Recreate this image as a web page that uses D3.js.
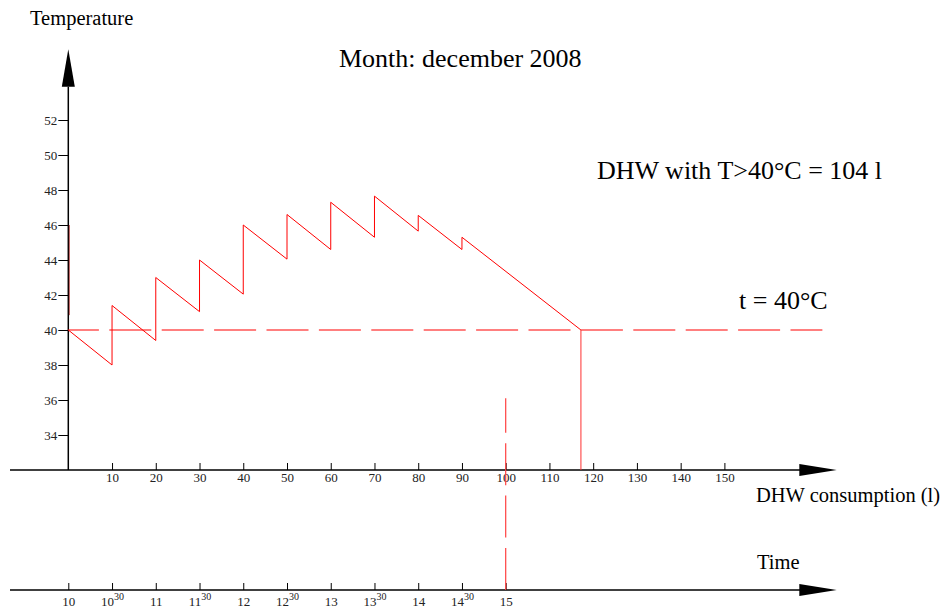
<!DOCTYPE html>
<html>
<head>
<meta charset="utf-8">
<script src="https://cdn.jsdelivr.net/npm/d3@7"></script>
<style>
  body { margin: 0; background: #fff; }
  svg { display: block; font-family: "Liberation Serif", "Times New Roman", serif; }
  .tick text { font-size: 13px; fill: #222; font-family: "Liberation Serif", "Times New Roman", serif; }
  .tick line { stroke: #000; }
</style>
</head>
<body>
<div id="container"></div>
<script>
const width = 943;
const height = 613;

// DHW consumption (l) vs temperature (°C)
const consumption = [0, 10, 10, 20, 20, 30, 30, 40, 40, 50, 50, 60, 60, 70, 70, 80, 80, 90, 90, 117.2];
const temperature = [40, 38, 41.4, 39.4, 43, 41.05, 44, 42.05, 46, 44.05, 46.6, 44.6, 47.3, 45.3, 47.65, 45.65, 46.55, 44.6, 45.3, 40];

const startSegment = [[0, 40.85], [0, 46]];
const threshold = 40;
const thresholdEnd = 172.4;
const crossing = 117.2;
const markerConsumption = 100;
const markerTop = 36.1;

const tempTicks = [34, 36, 38, 40, 42, 44, 46, 48, 50, 52];
const consTicks = [10, 20, 30, 40, 50, 60, 70, 80, 90, 100, 110, 120, 130, 140, 150];
const timeTicks = [10, 10.5, 11, 11.5, 12, 12.5, 13, 13.5, 14, 14.5, 15];
const timeLabels = ['10', '10', '11', '11', '12', '12', '13', '13', '14', '14', '15'];
const timeSups = ['', '30', '', '30', '', '30', '', '30', '', '30', ''];

const title = 'Month: december 2008';
const note = 'DHW with T>40°C = 104 l';
const thresholdLabel = 't = 40°C';

const x = d3.scaleLinear().domain([0, 100]).range([68.3, 505.7]);
const y = d3.scaleLinear().domain([32, 40]).range([470, 330]);
const xt = d3.scaleLinear().domain([10, 15]).range([68.3, 505.7]);
const timeY = 590;

const svg = d3.select('#container').append('svg')
    .attr('width', width)
    .attr('height', height)
    .attr('viewBox', `0 0 ${width} ${height}`);

// axes
const yAxis = svg.append('g')
    .attr('transform', `translate(${x(0)},0)`)
    .call(d3.axisLeft(y).tickValues(tempTicks).tickSize(10).tickPadding(1));
yAxis.select('.domain').remove();

const xAxis = svg.append('g')
    .attr('transform', `translate(0,${y(32)})`)
    .call(d3.axisBottom(x).tickValues(consTicks).tickSizeInner(-7).tickSizeOuter(0).tickPadding(3));
xAxis.select('.domain').remove();

const tAxis = svg.append('g')
    .attr('transform', `translate(0,${timeY})`)
    .call(d3.axisBottom(xt).tickValues(timeTicks).tickSizeInner(-7).tickSizeOuter(0).tickPadding(7));
tAxis.select('.domain').remove();
tAxis.selectAll('.tick text').each(function(d, i) {
    const t = d3.select(this).text(null);
    t.append('tspan').text(timeLabels[i]);
    if (timeSups[i]) {
        t.append('tspan').attr('dy', -6).style('font-size', '10px').text(timeSups[i]);
    }
});

const axisLines = svg.append('g').attr('stroke', '#000').attr('stroke-width', 1.5);
axisLines.append('line')
    .attr('x1', x(0)).attr('x2', x(0))
    .attr('y1', y(32)).attr('y2', 86.7);
axisLines.append('line')
    .attr('x1', 10).attr('x2', 800)
    .attr('y1', y(32)).attr('y2', y(32));
axisLines.append('line')
    .attr('x1', 10).attr('x2', 800)
    .attr('y1', timeY).attr('y2', timeY);

const arrows = svg.append('g').attr('fill', '#000');
arrows.append('path')
    .attr('d', `M${x(0)},49.3 L${x(0) - 6.5},86.7 L${x(0) + 6.5},86.7 Z`);
[y(32), timeY].forEach(yy => {
    arrows.append('path')
        .attr('d', `M836.7,${yy} L799.3,${yy - 6} L799.3,${yy + 6} Z`);
});

// threshold line
svg.append('line')
    .attr('x1', x(0)).attr('x2', x(thresholdEnd))
    .attr('y1', y(threshold)).attr('y2', y(threshold))
    .attr('stroke', 'red')
    .attr('stroke-width', 1.2)
    .attr('stroke-dasharray', '42,10.4')
    .attr('stroke-dashoffset', 11.4);

// temperature curve
const pts = consumption.map((c, i) => [c, temperature[i]]);
const line = d3.line().x(d => x(d[0])).y(d => y(d[1]));
svg.append('path')
    .datum(pts)
    .attr('fill', 'none')
    .attr('stroke', 'red')
    .attr('stroke-width', 1)
    .attr('d', line);

svg.append('path')
    .datum(startSegment)
    .attr('fill', 'none')
    .attr('stroke', '#900')
    .attr('stroke-width', 0.7)
    .attr('transform', 'translate(1,0)')
    .attr('d', line);

// drop at crossing
svg.append('line')
    .attr('x1', x(crossing)).attr('x2', x(crossing))
    .attr('y1', y(threshold)).attr('y2', y(32))
    .attr('stroke', '#ff3030')
    .attr('stroke-width', 1);

// marker at 100 l / 15h
svg.append('line')
    .attr('x1', x(markerConsumption)).attr('x2', x(markerConsumption))
    .attr('y1', timeY).attr('y2', y(markerTop))
    .attr('stroke', '#ff4040')
    .attr('stroke-width', 1.2)
    .attr('stroke-dasharray', '42,10.4');

// labels
svg.append('text')
    .attr('x', 30).attr('y', 25)
    .style('font-size', '20.5px')
    .text('Temperature');
svg.append('text')
    .attr('x', 339).attr('y', 67)
    .style('font-size', '26px')
    .text(title);
svg.append('text')
    .attr('x', 597).attr('y', 179)
    .style('font-size', '26px')
    .text(note);
svg.append('text')
    .attr('x', 739).attr('y', 309)
    .style('font-size', '26px')
    .text(thresholdLabel);
svg.append('text')
    .attr('x', 756).attr('y', 502)
    .style('font-size', '20.5px')
    .text('DHW consumption (l)');
svg.append('text')
    .attr('x', 757).attr('y', 569)
    .style('font-size', '20.5px')
    .text('Time');
</script>
</body>
</html>
